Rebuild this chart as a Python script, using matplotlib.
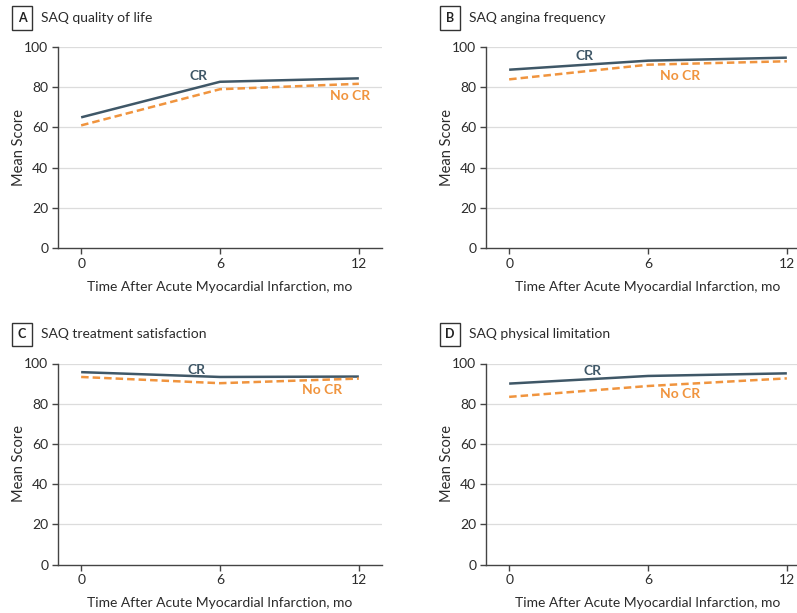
import matplotlib.pyplot as plt

plt.rcParams['font.family'] = ['Lato', 'DejaVu Sans']

months = [0, 6, 12]
month_labels = ['0', '6', '12']
y_ticks = [0, 20, 40, 60, 80, 100]

titles = ['SAQ quality of life', 'SAQ angina frequency',
          'SAQ treatment satisfaction', 'SAQ physical limitation']
letters = ['A', 'B', 'C', 'D']

# mean scores, CR vs no CR
cr_scores = [
    [65.0, 82.7, 84.4],
    [88.7, 93.2, 94.7],
    [95.7, 93.3, 93.5],
    [90.0, 93.8, 95.1],
]
nocr_scores = [
    [61.0, 79.0, 81.7],
    [83.9, 91.2, 92.9],
    [93.3, 90.2, 92.5],
    [83.4, 88.8, 92.6],
]

# where the group labels sit (month, score)
cr_label_pos = [(5.05, 85.6), (3.25, 95.3), (5.0, 96.9), (3.6, 96.5)]
nocr_label_pos = [(11.6, 75.6), (7.4, 85.8), (10.4, 86.8), (7.4, 84.8)]

CR_COLOR = '#3f5767'
NOCR_COLOR = '#f0943e'
TEXT = '#2b2b2b'

W, H = 797, 613
fig = plt.figure(figsize=(W / 100, H / 100), dpi=100)

# left, top-of-axes (px) for each panel
panel_px = [(58, 47), (486, 47), (58, 363.5), (486, 363.5)]
ax_w, ax_h = 324, 201

for i in range(4):
    lx, ty = panel_px[i]
    ax = fig.add_axes([lx / W, 1 - (ty + ax_h) / H, ax_w / W, ax_h / H])
    ax.set_xlim(-1, 13)
    ax.set_ylim(0, 100)
    for y in y_ticks[1:]:
        ax.axhline(y, color='#dcdcdc', lw=0.9, zorder=0)
    ax.plot(months, cr_scores[i], color=CR_COLOR, lw=1.8, solid_capstyle='butt')
    ax.plot(months, nocr_scores[i], color=NOCR_COLOR, lw=1.8,
            dashes=(3.0, 1.6))
    ax.text(*cr_label_pos[i], 'CR', color=CR_COLOR, fontsize=10,
            fontweight='bold', ha='center', va='center')
    ax.text(*nocr_label_pos[i], 'No CR', color=NOCR_COLOR, fontsize=10,
            fontweight='bold', ha='center', va='center')

    ax.set_xticks(months)
    ax.set_xticklabels(month_labels)
    ax.set_yticks(y_ticks)
    for s in ['top', 'right']:
        ax.spines[s].set_visible(False)
    for s in ['left', 'bottom']:
        ax.spines[s].set_color('#444444')
        ax.spines[s].set_linewidth(1.0)
    ax.tick_params(colors='#444444', labelcolor=TEXT, labelsize=10,
                   length=4, width=1.0, pad=3)
    ax.set_xlabel('Time After Acute Myocardial Infarction, mo',
                  fontsize=10, color=TEXT, labelpad=8)
    ax.set_ylabel('Mean Score', fontsize=10.5, color=TEXT, labelpad=-1)

    # panel letter in a box plus title
    fig.text((lx - 36) / W, 1 - (ty - 29) / H, letters[i], fontsize=9,
             fontweight='bold', color='#222222', ha='center', va='center',
             bbox=dict(boxstyle='square,pad=0.45', fc='white',
                       ec='#333333', lw=1.0))
    fig.text((lx - 17) / W, 1 - (ty - 29) / H, titles[i], fontsize=10,
             color=TEXT, ha='left', va='center')

fig.savefig('out.png', dpi=100)
